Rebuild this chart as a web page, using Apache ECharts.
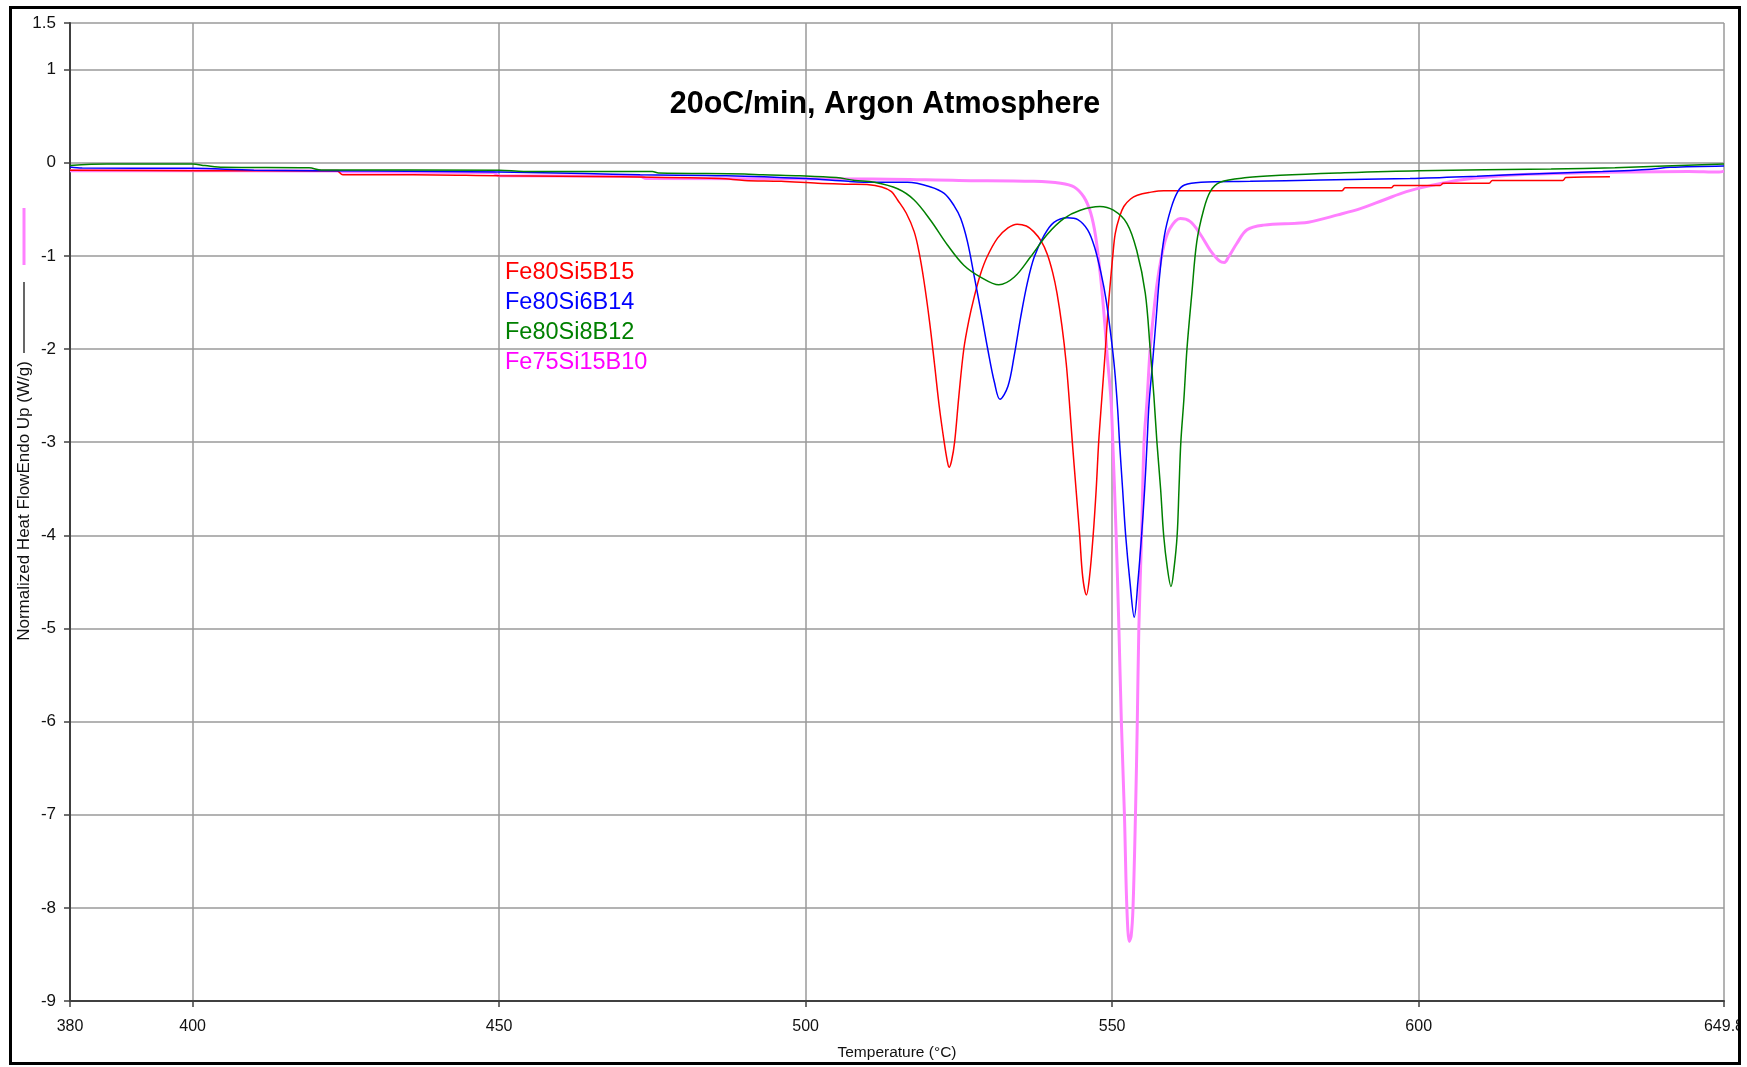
<!DOCTYPE html>
<html>
<head>
<meta charset="utf-8">
<title>DSC scans, 20oC/min, Argon Atmosphere</title>
<script src="https://cdn.jsdelivr.net/npm/echarts@6/dist/echarts.min.js"></script>
<style>
  html, body { margin: 0; padding: 0; background: #fff; }
  #chart { width: 1747px; height: 1067px; }
</style>
</head>
<body>
<div id="chart"></div>
<script>
// Temperature axis ticks (°C) and heat-flow axis ticks (W/g)
const xTicks = [380, 400, 450, 500, 550, 600, 649.8];
const yTicks = [-9, -8, -7, -6, -5, -4, -3, -2, -1, 0, 1, 1.5];

const seriesNames = ['Fe80Si5B15', 'Fe80Si6B14', 'Fe80Si8B12', 'Fe75Si15B10'];

// [temperature °C, normalized heat flow W/g]
const fe80si5b15 = [
  [380, -0.08], [400, -0.085], [423.6, -0.09], [424.5, -0.13], [436, -0.13], [450, -0.14],
  [470, -0.15], [486, -0.17], [490, -0.19], [496, -0.20], [502, -0.22], [507, -0.23],
  [510, -0.235], [512.4, -0.26], [514, -0.31], [515, -0.40], [516.4, -0.54], [517.7, -0.74],
  [518.5, -0.96], [519.3, -1.27], [520.2, -1.70], [521, -2.15], [521.8, -2.62], [522.6, -3.0],
  [523.1, -3.2], [523.4, -3.27], [523.8, -3.2], [524.3, -3.0], [525.0, -2.5], [525.8, -2.0],
  [526.6, -1.7], [527.5, -1.44], [528.5, -1.2], [529.6, -1.01], [531.3, -0.81], [533, -0.70],
  [534.5, -0.66], [536, -0.68], [537.2, -0.74], [538.4, -0.84], [539.4, -0.98], [540.3, -1.18],
  [541, -1.40], [541.8, -1.75], [542.5, -2.15], [543.0, -2.55], [543.5, -3.0], [544.1, -3.5],
  [544.7, -4.0], [545.2, -4.45], [545.8, -4.64], [546.3, -4.45], [546.9, -4.0], [547.4, -3.5],
  [547.8, -3.0], [548.3, -2.54], [548.9, -2.0], [549.3, -1.6], [549.7, -1.29], [550.1, -1.0],
  [550.5, -0.76], [551.2, -0.58], [551.9, -0.47], [553, -0.39], [554.1, -0.35], [556, -0.32],
  [558.4, -0.30], [570, -0.30], [587.5, -0.30], [588, -0.27], [595.5, -0.27], [596, -0.245],
  [603.5, -0.245], [604, -0.22], [611.5, -0.22], [612, -0.19], [623.5, -0.19], [624, -0.16],
  [631.2, -0.15]
];

const fe80si6b14 = [
  [380, -0.045], [382, -0.057], [400, -0.06], [410, -0.08], [430, -0.09], [450, -0.10],
  [464, -0.115], [473, -0.13], [487, -0.14], [500, -0.17], [507, -0.20], [511.2, -0.21],
  [516.6, -0.21], [520.4, -0.26], [522.6, -0.33], [524.2, -0.46], [525.3, -0.60], [526.4, -0.85],
  [527.5, -1.22], [528.6, -1.60], [529.7, -2.0], [530.8, -2.36], [531.7, -2.54], [533, -2.40],
  [534, -2.08], [535.1, -1.65], [536.2, -1.28], [537.3, -1.01], [538.9, -0.78], [540.5, -0.64],
  [542.7, -0.59], [544.4, -0.61], [546, -0.72], [547.1, -0.90], [548.2, -1.19], [549, -1.47],
  [549.8, -1.86], [550.4, -2.22], [550.9, -2.65], [551.2, -3.0], [551.7, -3.5], [552.2, -4.0],
  [552.9, -4.5], [553.6, -4.88], [554.2, -4.5], [554.8, -4.0], [555.3, -3.5], [555.7, -3.0],
  [556.0, -2.6], [556.6, -2.14], [557.2, -1.65], [557.7, -1.24], [558.5, -0.79], [559.6, -0.49],
  [560.7, -0.31], [561.8, -0.24], [564.5, -0.21], [572.5, -0.20], [584, -0.185], [598.6, -0.17],
  [609.5, -0.145], [618.5, -0.12], [630, -0.095], [638, -0.07], [641, -0.05], [649.8, -0.035]
];

const fe80si8b12 = [
  [380, -0.03], [386, -0.015], [400, -0.015], [402, -0.03], [405, -0.05], [419, -0.055],
  [421, -0.078], [450, -0.08], [454, -0.093], [475, -0.095], [476, -0.11], [490, -0.12],
  [493, -0.13], [499, -0.14], [505, -0.16], [508, -0.19], [511.2, -0.21], [515, -0.28],
  [517.7, -0.40], [520.4, -0.62], [523.1, -0.88], [525.8, -1.10], [528.6, -1.23], [531.5, -1.31],
  [534, -1.23], [536.7, -1.01], [539.4, -0.77], [542.1, -0.60], [544.8, -0.51], [548, -0.47],
  [550.2, -0.51], [552.4, -0.65], [554, -0.94], [555.4, -1.40], [556.2, -2.0], [556.8, -2.5],
  [557.3, -3.0], [557.9, -3.5], [558.4, -4.0], [559, -4.35], [559.6, -4.55], [560.1, -4.35],
  [560.6, -4.0], [560.9, -3.5], [561.2, -3.0], [561.7, -2.54], [562.2, -2.0], [563.0, -1.40],
  [563.8, -0.85], [564.9, -0.51], [566.0, -0.31], [567.6, -0.21], [572, -0.16], [577.4, -0.135],
  [586.8, -0.11], [600, -0.085], [621.6, -0.068], [632, -0.053], [649.8, -0.015]
];

const fe75si15b10 = [
  [380, -0.085], [423.6, -0.088], [424.5, -0.10], [449, -0.105], [450, -0.14], [473, -0.145],
  [474, -0.17], [511, -0.175], [525, -0.19], [537.2, -0.20], [541.6, -0.22],
  [543.8, -0.26], [545.4, -0.37], [546.5, -0.54], [547.3, -0.79], [548.1, -1.22], [548.7, -1.65],
  [549.2, -2.08], [549.8, -2.54], [550.1, -3.0], [550.65, -4.0], [551.1, -5.0], [551.5, -6.0],
  [552.0, -7.0], [552.4, -8.0], [552.8, -8.36], [553.1, -8.3], [553.4, -8.0], [553.8, -7.0],
  [554.1, -6.0], [554.35, -5.0], [554.8, -4.0], [555.2, -3.0], [555.7, -2.54], [556.2, -2.0],
  [557.0, -1.47], [557.5, -1.22], [558.4, -0.90], [559.4, -0.71], [561.1, -0.60], [562.7, -0.63],
  [564.3, -0.76], [566.0, -0.94], [567.6, -1.06], [568.3, -1.07], [569, -1.01], [570.3, -0.87],
  [572, -0.72], [574.7, -0.67], [580.1, -0.65], [582, -0.64], [586.8, -0.56], [590.6, -0.49],
  [594.3, -0.40], [598, -0.31], [602.4, -0.24], [606.7, -0.185], [611.7, -0.15], [617.9, -0.125],
  [624.1, -0.114], [633.4, -0.10], [644, -0.093], [649, -0.10], [649.8, -0.09]
];

const lineColors = ['#ff0000', '#0000ff', '#008000', '#ff80ff'];
const labelColors = ['#ff0000', '#0000ff', '#008000', '#ff00ff'];
const lineWidths = [1.5, 1.5, 1.5, 3];
const seriesData = [fe80si5b15, fe80si6b14, fe80si8b12, fe75si15b10];

const FONT = '"Liberation Sans", Arial, sans-serif';

const chart = echarts.init(document.getElementById('chart'), null, { renderer: 'canvas' });

const option = {
  backgroundColor: '#ffffff',
  animation: false,
  title: {
    text: '20oC/min, Argon Atmosphere',
    left: 880,
    top: 84,
    textAlign: 'center',
    textStyle: { fontFamily: FONT, fontSize: 30.5, fontWeight: 'bold', color: '#000' }
  },
  legend: {
    orient: 'vertical',
    left: 500,
    top: 261,
    padding: 0,
    itemGap: 6,
    itemWidth: 0,
    itemHeight: 0,
    icon: 'rect',
    selectedMode: false,
    data: seriesNames.map((n, i) => ({
      name: n,
      textStyle: { color: labelColors[i] }
    })),
    textStyle: { fontFamily: FONT, fontSize: 23.5, lineHeight: 24 }
  },
  grid: { left: 70, right: 20, top: 23, bottom: 66 },
  xAxis: {
    type: 'value',
    min: 380,
    max: 649.8,
    name: 'Temperature (°C)',
    nameLocation: 'middle',
    nameGap: 44,
    nameTextStyle: { fontFamily: FONT, fontSize: 15.5, color: '#111' },
    axisLine: { show: true, onZero: false, lineStyle: { color: '#404040', width: 2 } },
    axisTick: { show: true, length: 6, customValues: xTicks, lineStyle: { color: '#404040', width: 1.5 } },
    axisLabel: {
      customValues: xTicks,
      margin: 18,
      fontFamily: FONT, fontSize: 16, color: '#111'
    },
    splitLine: { show: true, lineStyle: { color: '#9a9a9a', width: 1.5 } }
  },
  yAxis: {
    type: 'value',
    min: -9,
    max: 1.5,
    axisLine: { show: true, onZero: false, lineStyle: { color: '#404040', width: 2 } },
    axisTick: { show: true, length: 6, customValues: yTicks, lineStyle: { color: '#404040', width: 1.5 } },
    axisLabel: {
      customValues: yTicks,
      margin: 14,
      fontFamily: FONT, fontSize: 17, color: '#111'
    },
    splitLine: { show: true, lineStyle: { color: '#9a9a9a', width: 1.5 } }
  },
  series: seriesNames.map((n, i) => ({
    name: n,
    type: 'line',
    data: seriesData[i],
    showSymbol: false,
    symbol: 'none',
    smooth: 0.35,
    z: i === 3 ? 2 : 3,
    lineStyle: { color: lineColors[i], width: lineWidths[i] },
    itemStyle: { color: lineColors[i] }
  })),
  graphic: [
    {
      type: 'text',
      x: 24,
      y: 501,
      rotation: Math.PI / 2,
      style: {
        text: 'Normalized Heat FlowEndo Up (W/g)',
        fontFamily: FONT,
        fontSize: 17,
        fill: '#111',
        align: 'center',
        verticalAlign: 'middle'
      }
    },
    {
      type: 'line',
      shape: { x1: 24, y1: 282, x2: 24, y2: 353 },
      style: { stroke: '#000', lineWidth: 1.2 }
    },
    {
      type: 'line',
      shape: { x1: 24, y1: 208, x2: 24, y2: 265 },
      style: { stroke: '#ff80ff', lineWidth: 3 }
    },
    {
      type: 'rect',
      z: 100,
      shape: { x: 1741, y: 0, width: 6, height: 1067 },
      style: { fill: '#ffffff' }
    },
    {
      type: 'rect',
      z: 101,
      shape: { x: 10.5, y: 7.5, width: 1729, height: 1056 },
      style: { fill: null, stroke: '#000', lineWidth: 3 }
    }
  ]
};

chart.setOption(option);
</script>
</body>
</html>
